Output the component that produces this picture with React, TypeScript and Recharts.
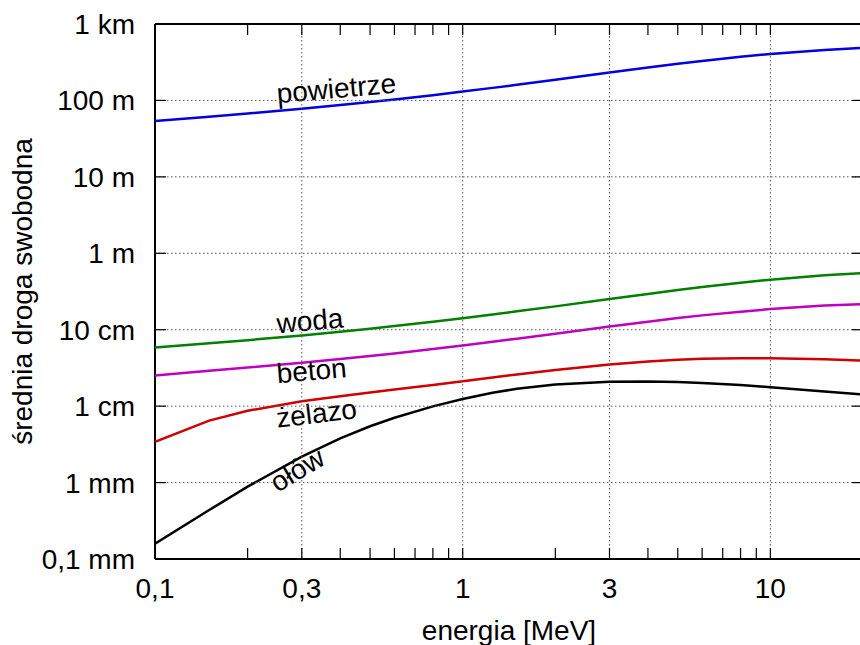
import React from "react";
import { LineChart, Line, XAxis, YAxis, ReferenceDot } from "recharts";

// photon energy, MeV
const energies = [0.1, 0.15, 0.2, 0.3, 0.4, 0.5, 0.6, 0.8, 1, 1.25, 1.5, 2, 3, 4, 5, 6, 8, 10, 15, 20];

// mean free path, metres
const powietrze = [53.9, 61.2, 67.3, 77.8, 86.9, 95.3, 103, 117, 131, 146, 160, 187, 232, 270, 302, 329, 373, 406, 458, 487];
const woda = [0.0586, 0.0664, 0.073, 0.0843, 0.0942, 0.103, 0.112, 0.127, 0.141, 0.158, 0.174, 0.202, 0.252, 0.294, 0.33, 0.361, 0.412, 0.451, 0.515, 0.552];
const beton = [0.0252, 0.029, 0.032, 0.037, 0.0414, 0.0453, 0.049, 0.0559, 0.0622, 0.0695, 0.0764, 0.0888, 0.11, 0.127, 0.142, 0.154, 0.172, 0.186, 0.207, 0.216];
const zelazo = [0.00342, 0.00647, 0.0087, 0.01156, 0.01351, 0.01509, 0.01649, 0.01896, 0.02119, 0.02374, 0.02601, 0.02978, 0.03507, 0.03835, 0.04037, 0.04154, 0.04246, 0.04242, 0.04107, 0.03939];
const olow = [0.000159, 0.000437, 0.000883, 0.002186, 0.00379, 0.00546, 0.00706, 0.00993, 0.01241, 0.01499, 0.01687, 0.01913, 0.02081, 0.02099, 0.02062, 0.02006, 0.01885, 0.01772, 0.01557, 0.0142];

const xMajorTicks = [0.1, 0.3, 1, 3, 10];
const xMajorLabels = ["0,1", "0,3", "1", "3", "10"];
const xMinorTicks = [0.2, 0.4, 0.5, 0.6, 0.7, 0.8, 0.9, 2, 4, 5, 6, 7, 8, 9];
const yTicks = [1e-4, 1e-3, 1e-2, 1e-1, 1, 10, 100, 1000];
const yTickLabels = ["0,1 mm", "1 mm", "1 cm", "10 cm", "1 m", "10 m", "100 m", "1 km"];

const materials = ["powietrze", "woda", "beton", "żelazo", "ołów"];
const materialValues = [powietrze, woda, beton, zelazo, olow];

const data = energies.map((e, i) => {
  const row: Record<string, number> = { e };
  materials.forEach((m, j) => {
    row[m] = materialValues[j][i];
  });
  return row;
});

const colors: Record<string, string> = {
  powietrze: "#0000e0",
  woda: "#008000",
  beton: "#c000c0",
  "żelazo": "#d00000",
  "ołów": "#000000",
};

// where each material name sits (start of baseline) and how it is tilted
const nameAnchors = [
  { name: "powietrze", e: 0.25, l: 92, angle: -5 },
  { name: "woda", e: 0.25, l: 0.09, angle: -5 },
  { name: "beton", e: 0.25, l: 0.02, angle: -5 },
  { name: "żelazo", e: 0.25, l: 0.0052, angle: -7 },
  { name: "ołów", e: 0.25, l: 0.00073, angle: -31 },
];

const FONT = "'Liberation Sans', Arial, Helvetica, sans-serif";
const FS = 28;
const GRID = "#555";
const DOTS = "1.5 2.5";
const TICK = 11;

// chart box and the plot frame that follows from margins and axis sizes
const W = 870;
const H = 645;
const MARGIN = { top: 24, right: 7, bottom: 0, left: 0 };
const X_AXIS_H = 86;
const Y_AXIS_W = 155;
const PT = MARGIN.top;
const PB = H - MARGIN.bottom - X_AXIS_H;
const PL = MARGIN.left + Y_AXIS_W;
const PR = W - MARGIN.right;

const allXTicks = [...xMajorTicks, ...xMinorTicks].sort((a, b) => a - b);

const majorIndex = (v: number) => xMajorTicks.findIndex((t) => Math.abs(t - v) < 1e-9);

// bottom ticks point inward, are mirrored on the top edge, majors get a dotted grid line
const XTick = (props: any) => {
  const { x, y, payload } = props;
  const mi = majorIndex(payload.value);
  return (
    <g>
      {mi > 0 && (
        <line x1={x} x2={x} y1={PT} y2={PB} stroke={GRID} strokeDasharray={DOTS} />
      )}
      <line x1={x} x2={x} y1={PB} y2={PB - TICK} stroke="#000" strokeWidth={1.2} />
      <line x1={x} x2={x} y1={PT} y2={PT + TICK} stroke="#000" strokeWidth={1.2} />
      {mi >= 0 && (
        <text x={x} y={y} dy="0.71em" textAnchor="middle" fontSize={FS} fontFamily={FONT} fill="#000">
          {xMajorLabels[mi]}
        </text>
      )}
    </g>
  );
};

// left ticks inward, mirrored on the right; the top decade closes the frame
const YTick = (props: any) => {
  const { x, y, index } = props;
  const last = index === yTicks.length - 1;
  return (
    <g>
      {index > 0 && !last && (
        <line x1={PL} x2={PR} y1={y} y2={y} stroke={GRID} strokeDasharray={DOTS} />
      )}
      <line x1={PL} x2={PL + TICK} y1={y} y2={y} stroke="#000" strokeWidth={1.2} />
      <line x1={PR - TICK} x2={PR} y1={y} y2={y} stroke="#000" strokeWidth={1.2} />
      {last && (
        <>
          <line x1={PL} x2={PR} y1={y} y2={y} stroke="#000" strokeWidth={2} />
          <line x1={PR} x2={PR} y1={PT} y2={PB} stroke="#000" strokeWidth={2} />
        </>
      )}
      <text x={x} y={y} dy="0.355em" textAnchor="end" fontSize={FS} fontFamily={FONT} fill="#000">
        {yTickLabels[index]}
      </text>
    </g>
  );
};

const axisLine = { stroke: "#000", strokeWidth: 2 };

export default function App() {
  return (
    <div
      style={{
        position: "fixed",
        left: 0,
        top: 0,
        width: 860,
        height: 645,
        overflow: "hidden",
        background: "#fff",
        fontFamily: FONT,
      }}
    >
      <LineChart width={W} height={H} data={data} margin={MARGIN}>
        <XAxis
          dataKey="e"
          type="number"
          scale="log"
          domain={[0.1, 20]}
          allowDataOverflow
          ticks={allXTicks}
          interval={0}
          tickSize={0}
          tickMargin={19}
          tickLine={false}
          height={X_AXIS_H}
          tick={XTick}
          axisLine={axisLine}
          label={{
            value: "energia [MeV]",
            position: "insideBottom",
            offset: 5,
            fontSize: FS,
            fill: "#000",
            fontFamily: FONT,
          }}
        />
        <YAxis
          type="number"
          scale="log"
          domain={[1e-4, 1e3]}
          allowDataOverflow
          ticks={yTicks}
          interval={0}
          tickSize={0}
          tickMargin={20}
          tickLine={false}
          width={Y_AXIS_W}
          tick={YTick}
          axisLine={axisLine}
          label={{
            value: "średnia droga swobodna",
            angle: -90,
            position: "insideLeft",
            offset: 22,
            fontSize: FS,
            fill: "#000",
            fontFamily: FONT,
            style: { textAnchor: "middle" },
          }}
        />

        {materials.map((m) => (
          <Line
            key={m}
            dataKey={m}
            type="linear"
            stroke={colors[m]}
            strokeWidth={2.5}
            dot={false}
            activeDot={false}
            isAnimationActive={false}
            zIndex={600}
          />
        ))}

        {nameAnchors.map((a) => (
          <ReferenceDot
            key={a.name}
            x={a.e}
            y={a.l}
            r={0}
            zIndex={700}
            shape={(p: any) => (
              <text
                x={p.cx}
                y={p.cy}
                transform={`rotate(${a.angle} ${p.cx} ${p.cy})`}
                fontSize={FS}
                fontFamily={FONT}
                fill="#000"
              >
                {a.name}
              </text>
            )}
          />
        ))}
      </LineChart>
    </div>
  );
}
